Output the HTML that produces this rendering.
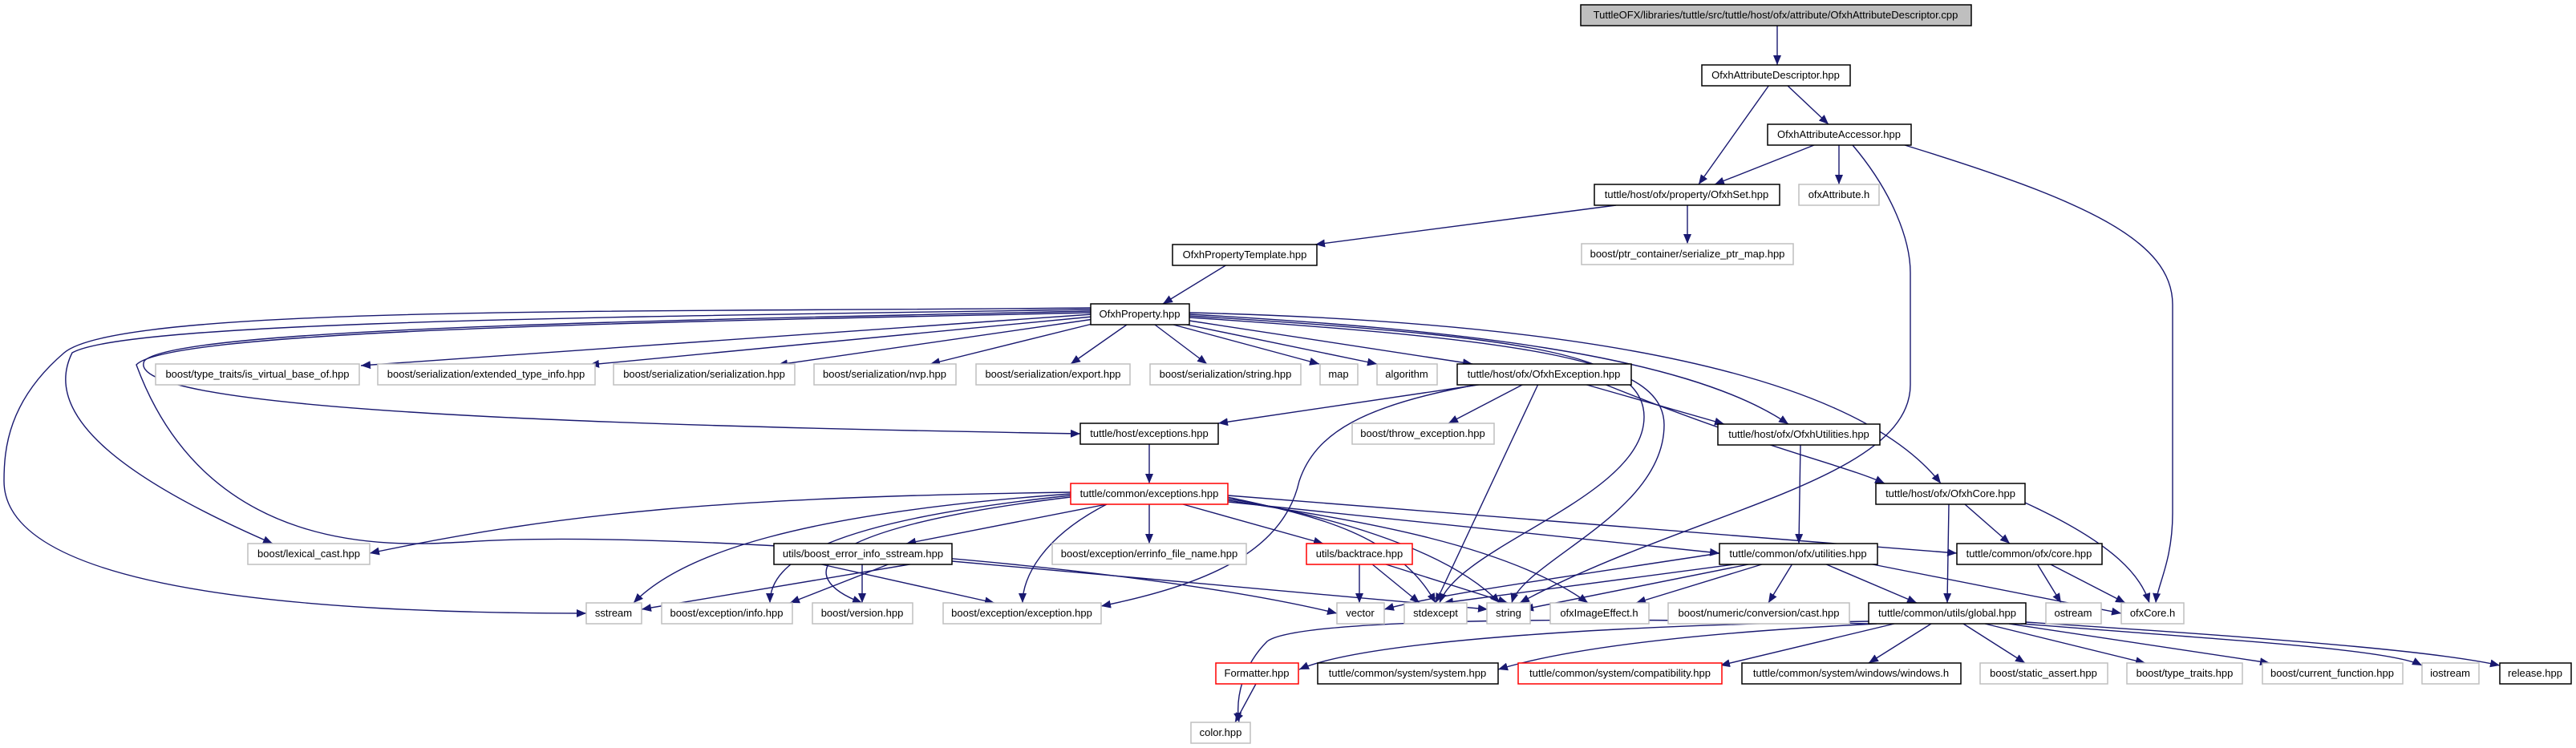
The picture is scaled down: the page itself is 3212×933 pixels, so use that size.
<!DOCTYPE html>
<html><head><meta charset="utf-8"><style>
html,body{margin:0;padding:0;background:#fff;}
svg{display:block;}
text{font-family:"Liberation Sans",Arial,sans-serif;font-size:13px;fill:#000;text-anchor:middle;}
.e{fill:none;stroke:#191970;stroke-width:1.4;marker-end:url(#a);}
.b{fill:#fff;stroke:#000;stroke-width:1.5;}
.g{fill:#fff;stroke:#bfbfbf;stroke-width:1.5;}
.r{fill:#fff;stroke:#ff0000;stroke-width:1.5;}
</style></head><body>
<svg width="3212" height="933" viewBox="0 0 3212 933" xmlns="http://www.w3.org/2000/svg">
<defs><marker id="a" markerWidth="12" markerHeight="10" refX="12" refY="5" orient="auto" markerUnits="userSpaceOnUse"><path d="M0,0 L12,5 L0,10z" fill="#191970"/></marker></defs>

<!-- edges -->
<path class="e" d="M2216,31 L2216,81"/>
<path class="e" d="M2206,106 L2118,230"/>
<path class="e" d="M2228,106 L2280,155"/>
<path class="e" d="M2262,181 L2138,230"/>
<path class="e" d="M2293,181 L2293,230"/>
<path class="e" d="M2310,181 C2360,240 2382,300 2382,340 L2382,480 C2382,600 2100,640 1895,752"/>
<path class="e" d="M2375,181 C2600,250 2709,300 2709,380 L2709,640 C2709,700 2690,730 2688,752"/>
<path class="e" d="M2015,256 L1640,305"/>
<path class="e" d="M2104,256 L2104,304"/>
<path class="e" d="M1530,330 L1450,379"/>
<path class="e" d="M1362,392 L450,456"/>
<path class="e" d="M1362,395 L735,455"/>
<path class="e" d="M1364,398 L970,455"/>
<path class="e" d="M1370,402 L1160,454"/>
<path class="e" d="M1405,405 L1335,454"/>
<path class="e" d="M1440,405 L1505,454"/>
<path class="e" d="M1463,405 L1645,454"/>
<path class="e" d="M1470,403 L1717,454"/>
<path class="e" d="M1483,400 L1836,454"/>
<path class="e" d="M1483,392 C1800,410 2100,440 2230,529"/>
<path class="e" d="M1483,390 C1900,400 2300,450 2420,603"/>
<path class="e" d="M1483,394 C1900,420 2050,440 2050,520 C2050,620 1820,680 1795,752"/>
<path class="e" d="M1483,396 C1920,425 2075,450 2075,530 C2075,640 1900,700 1885,752"/>
<path class="e" d="M1360,384 C800,390 150,380 80,440 C10,500 5,560 5,600 C5,740 400,765 731,765"/>
<path class="e" d="M1360,386 C800,395 160,400 90,440 C50,520 160,600 340,678"/>
<path class="e" d="M1360,388 C800,400 220,410 180,450 C150,510 700,530 1347,541"/>
<path class="e" d="M1360,390 C800,402 210,412 170,455 C260,700 500,680 580,676 C800,660 1400,700 1667,765"/>
<path class="e" d="M1850,479 L1519,528"/>
<path class="e" d="M1900,479 L1806,528"/>
<path class="e" d="M1846,479 C1700,505 1640,540 1620,600 C1600,690 1500,730 1373,756"/>
<path class="e" d="M1918,479 L1790,752"/>
<path class="e" d="M1975,479 L2150,529"/>
<path class="e" d="M2000,479 C2200,560 2300,580 2350,603"/>
<path class="e" d="M1433,554 L1433,603"/>
<path class="e" d="M2245,554 L2243,678"/>
<path class="e" d="M2450,629 L2506,678"/>
<path class="e" d="M2430,629 L2428,752"/>
<path class="e" d="M2525,627 C2640,680 2670,720 2680,752"/>
<path class="e" d="M1433,629 L1433,678"/>
<path class="e" d="M1475,629 L1650,678"/>
<path class="e" d="M1380,629 L1130,678"/>
<path class="e" d="M1380,629 C1300,670 1275,720 1275,752"/>
<path class="e" d="M1335,614 C900,620 700,640 461,690"/>
<path class="e" d="M1335,616 C1000,640 850,690 790,752"/>
<path class="e" d="M1335,618 C1030,650 960,700 960,752"/>
<path class="e" d="M1335,620 C1000,660 990,720 1075,752"/>
<path class="e" d="M1531,620 C1620,640 1740,660 1790,752"/>
<path class="e" d="M1531,622 C1640,640 1800,680 1870,752"/>
<path class="e" d="M1531,624 C1700,650 1880,680 1980,752"/>
<path class="e" d="M1531,626 L2144,690"/>
<path class="e" d="M1531,618 L2440,690"/>
<path class="e" d="M1140,703 L800,760"/>
<path class="e" d="M1110,703 L985,752"/>
<path class="e" d="M1075,703 L1075,752"/>
<path class="e" d="M1020,703 L1240,752"/>
<path class="e" d="M1187,700 L1855,760"/>
<path class="e" d="M1695,703 L1695,752"/>
<path class="e" d="M1710,703 L1770,752"/>
<path class="e" d="M1725,703 L1880,752"/>
<path class="e" d="M2144,690 C1950,720 1800,740 1726,760"/>
<path class="e" d="M2170,703 L1800,752"/>
<path class="e" d="M2185,703 L1900,760"/>
<path class="e" d="M2200,703 L2040,752"/>
<path class="e" d="M2235,703 L2205,752"/>
<path class="e" d="M2275,703 L2390,752"/>
<path class="e" d="M2330,703 L2645,765"/>
<path class="e" d="M2540,703 L2570,752"/>
<path class="e" d="M2555,703 L2650,752"/>
<path class="e" d="M2330,778 C2000,770 1620,770 1580,800 C1550,830 1540,870 1545,901"/>
<path class="e" d="M2330,775 C2000,780 1700,800 1620,835"/>
<path class="e" d="M2340,778 C2100,790 1950,810 1868,835"/>
<path class="e" d="M2362,778 L2145,830"/>
<path class="e" d="M2408,778 L2330,827"/>
<path class="e" d="M2448,778 L2525,827"/>
<path class="e" d="M2475,778 L2675,827"/>
<path class="e" d="M2505,778 L2830,827"/>
<path class="e" d="M2520,778 C2800,800 2980,810 3020,830"/>
<path class="e" d="M2526,776 C2900,800 3050,815 3117,830"/>
<path class="e" d="M1566,853 L1540,901"/>

<!-- nodes -->
<g>
<rect x="1971" y="6" width="487" height="26" fill="#bfbfbf" stroke="#000" stroke-width="1.5"/><text x="2214" y="23">TuttleOFX/libraries/tuttle/src/tuttle/host/ofx/attribute/OfxhAttributeDescriptor.cpp</text>
<rect class="b" x="2122" y="81" width="185" height="26"/><text x="2214" y="98">OfxhAttributeDescriptor.hpp</text>
<rect class="b" x="2204" y="155" width="179" height="26"/><text x="2293" y="172">OfxhAttributeAccessor.hpp</text>
<rect class="b" x="1988" y="230" width="231" height="26"/><text x="2103" y="247">tuttle/host/ofx/property/OfxhSet.hpp</text>
<rect class="g" x="2243" y="230" width="100" height="26"/><text x="2293" y="247">ofxAttribute.h</text>
<rect class="g" x="1972" y="304" width="264" height="26"/><text x="2104" y="321">boost/ptr_container/serialize_ptr_map.hpp</text>
<rect class="b" x="1462" y="305" width="180" height="26"/><text x="1552" y="322">OfxhPropertyTemplate.hpp</text>
<rect class="b" x="1360" y="379" width="123" height="26"/><text x="1421" y="396">OfxhProperty.hpp</text>
<rect class="g" x="194" y="454" width="254" height="26"/><text x="321" y="471">boost/type_traits/is_virtual_base_of.hpp</text>
<rect class="g" x="471" y="454" width="271" height="26"/><text x="606" y="471">boost/serialization/extended_type_info.hpp</text>
<rect class="g" x="765" y="454" width="226" height="26"/><text x="878" y="471">boost/serialization/serialization.hpp</text>
<rect class="g" x="1015" y="454" width="177" height="26"/><text x="1103" y="471">boost/serialization/nvp.hpp</text>
<rect class="g" x="1217" y="454" width="192" height="26"/><text x="1313" y="471">boost/serialization/export.hpp</text>
<rect class="g" x="1434" y="454" width="188" height="26"/><text x="1528" y="471">boost/serialization/string.hpp</text>
<rect class="g" x="1646" y="454" width="47" height="26"/><text x="1669" y="471">map</text>
<rect class="g" x="1717" y="454" width="75" height="26"/><text x="1754" y="471">algorithm</text>
<rect class="b" x="1817" y="454" width="217" height="26"/><text x="1925" y="471">tuttle/host/ofx/OfxhException.hpp</text>
<rect class="g" x="1686" y="528" width="177" height="26"/><text x="1774" y="545">boost/throw_exception.hpp</text>
<rect class="b" x="1347" y="528" width="172" height="26"/><text x="1433" y="545">tuttle/host/exceptions.hpp</text>
<rect class="b" x="2142" y="529" width="202" height="26"/><text x="2243" y="546">tuttle/host/ofx/OfxhUtilities.hpp</text>
<rect class="r" x="1335" y="603" width="196" height="26"/><text x="1433" y="620">tuttle/common/exceptions.hpp</text>
<rect class="b" x="2339" y="603" width="186" height="26"/><text x="2432" y="620">tuttle/host/ofx/OfxhCore.hpp</text>
<rect class="g" x="309" y="678" width="152" height="26"/><text x="385" y="695">boost/lexical_cast.hpp</text>
<rect class="b" x="965" y="678" width="222" height="26"/><text x="1076" y="695">utils/boost_error_info_sstream.hpp</text>
<rect class="g" x="1312" y="678" width="242" height="26"/><text x="1433" y="695">boost/exception/errinfo_file_name.hpp</text>
<rect class="r" x="1629" y="678" width="132" height="26"/><text x="1695" y="695">utils/backtrace.hpp</text>
<rect class="b" x="2144" y="678" width="197" height="26"/><text x="2242" y="695">tuttle/common/ofx/utilities.hpp</text>
<rect class="b" x="2440" y="678" width="181" height="26"/><text x="2530" y="695">tuttle/common/ofx/core.hpp</text>
<rect class="g" x="731" y="752" width="69" height="26"/><text x="765" y="769">sstream</text>
<rect class="g" x="825" y="752" width="163" height="26"/><text x="906" y="769">boost/exception/info.hpp</text>
<rect class="g" x="1013" y="752" width="125" height="26"/><text x="1075" y="769">boost/version.hpp</text>
<rect class="g" x="1176" y="752" width="197" height="26"/><text x="1274" y="769">boost/exception/exception.hpp</text>
<rect class="g" x="1667" y="752" width="59" height="26"/><text x="1696" y="769">vector</text>
<rect class="g" x="1751" y="752" width="78" height="26"/><text x="1790" y="769">stdexcept</text>
<rect class="g" x="1854" y="752" width="54" height="26"/><text x="1881" y="769">string</text>
<rect class="g" x="1933" y="752" width="123" height="26"/><text x="1994" y="769">ofxImageEffect.h</text>
<rect class="g" x="2080" y="752" width="226" height="26"/><text x="2193" y="769">boost/numeric/conversion/cast.hpp</text>
<rect class="b" x="2330" y="752" width="196" height="26"/><text x="2428" y="769">tuttle/common/utils/global.hpp</text>
<rect class="g" x="2551" y="752" width="69" height="26"/><text x="2585" y="769">ostream</text>
<rect class="g" x="2645" y="752" width="78" height="26"/><text x="2684" y="769">ofxCore.h</text>
<rect class="r" x="1516" y="827" width="103" height="26"/><text x="1567" y="844">Formatter.hpp</text>
<rect class="b" x="1643" y="827" width="225" height="26"/><text x="1755" y="844">tuttle/common/system/system.hpp</text>
<rect class="r" x="1893" y="827" width="254" height="26"/><text x="2020" y="844">tuttle/common/system/compatibility.hpp</text>
<rect class="b" x="2172" y="827" width="273" height="26"/><text x="2308" y="844">tuttle/common/system/windows/windows.h</text>
<rect class="g" x="2469" y="827" width="159" height="26"/><text x="2548" y="844">boost/static_assert.hpp</text>
<rect class="g" x="2652" y="827" width="144" height="26"/><text x="2724" y="844">boost/type_traits.hpp</text>
<rect class="g" x="2821" y="827" width="175" height="26"/><text x="2908" y="844">boost/current_function.hpp</text>
<rect class="g" x="3020" y="827" width="71" height="26"/><text x="3055" y="844">iostream</text>
<rect class="b" x="3117" y="827" width="89" height="26"/><text x="3161" y="844">release.hpp</text>
<rect class="g" x="1485" y="901" width="74" height="26"/><text x="1522" y="918">color.hpp</text>
</g>
</svg>
</body></html>
